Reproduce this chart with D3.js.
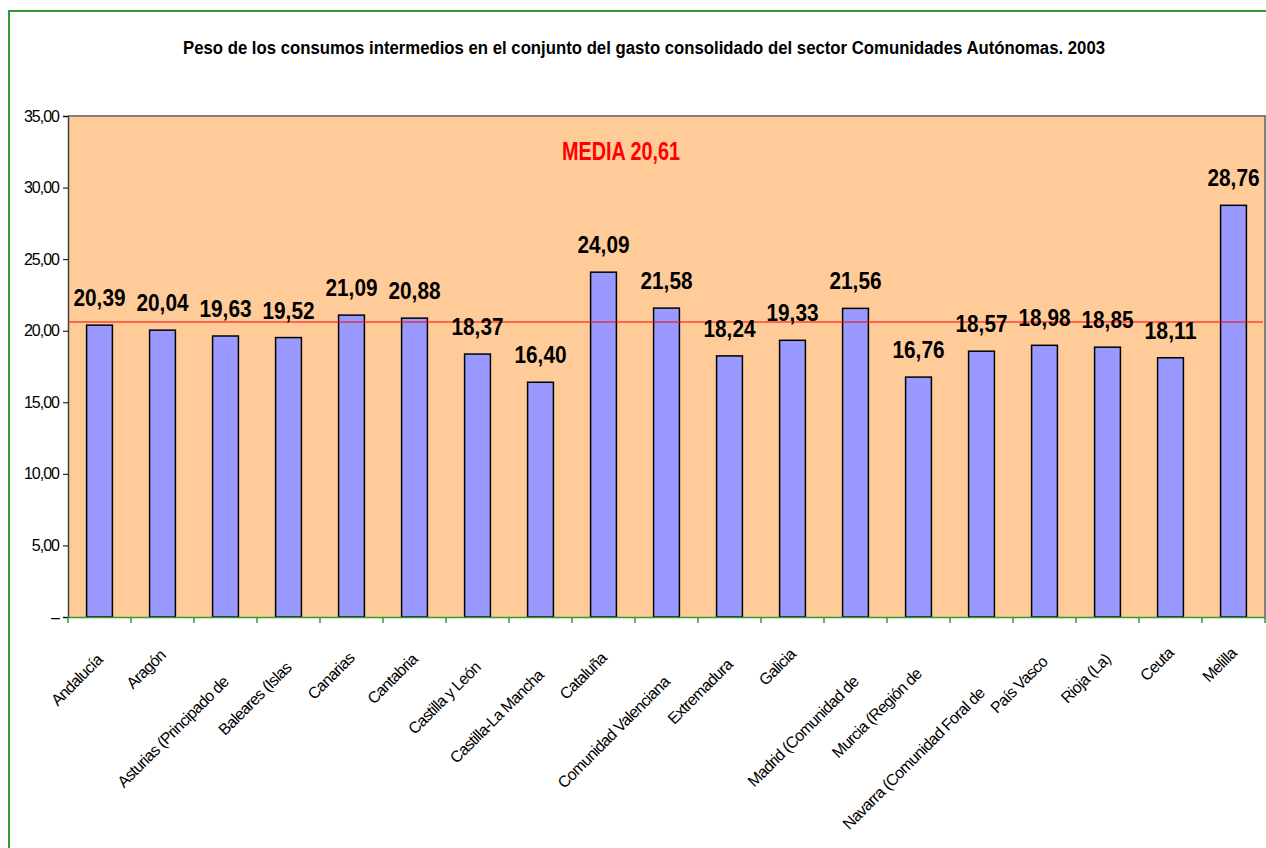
<!DOCTYPE html>
<html>
<head>
<meta charset="utf-8">
<script src="https://cdn.jsdelivr.net/npm/d3@7/dist/d3.min.js"></script>
<style>
  html, body { margin: 0; padding: 0; background: #fff; }
  svg { display: block; font-family: "Liberation Sans", Arial, sans-serif; }
</style>
</head>
<body>
<svg id="chart" width="1266" height="848"></svg>
<script>
const chartTitle = "Peso de los consumos intermedios en el conjunto del gasto consolidado del sector Comunidades Autónomas. 2003";
const categories = ["Andalucía", "Aragón", "Asturias (Principado de", "Baleares (Islas", "Canarias", "Cantabria",
  "Castilla y León", "Castilla-La Mancha", "Cataluña", "Comunidad Valenciana", "Extremadura", "Galicia",
  "Madrid (Comunidad de", "Murcia (Región de", "Navarra (Comunidad Foral de", "País Vasco", "Rioja (La)", "Ceuta", "Melilla"];
const values = [20.39, 20.04, 19.63, 19.52, 21.09, 20.88, 18.37, 16.40, 24.09, 21.58, 18.24, 19.33, 21.56, 16.76, 18.57, 18.98, 18.85, 18.11, 28.76];
const meanValue = 20.61;
const meanLabel = "MEDIA 20,61";
const yTicks = [0, 5, 10, 15, 20, 25, 30, 35];

const svg = d3.select("#chart");
const M = { left: 68, right: 1265, top: 116, bottom: 617 };

const x = d3.scaleBand().domain(categories).range([M.left, M.right]).padding(0);
const y = d3.scaleLinear().domain([0, 35]).range([M.bottom, M.top]);
const fmt = v => d3.format(".2f")(v).replace(".", ",");

// outer chart border (extends beyond the window)
svg.append("rect").attr("x", 9).attr("y", 11).attr("width", 1300).attr("height", 900)
  .attr("fill", "#fff").attr("stroke", "#339933").attr("stroke-width", 2);

// title
svg.append("text").attr("x", 644).attr("y", 54).attr("text-anchor", "middle")
  .attr("font-size", 18).attr("font-weight", "bold").attr("fill", "#000")
  .attr("textLength", 922).attr("lengthAdjust", "spacingAndGlyphs")
  .text(chartTitle);

// plot area
svg.append("rect").attr("x", M.left).attr("y", M.top)
  .attr("width", M.right - M.left).attr("height", M.bottom - M.top)
  .attr("fill", "#FFCC99");
svg.append("path")
  .attr("d", `M${M.left},${M.top}H${M.right}V${M.bottom}`)
  .attr("fill", "none").attr("stroke", "#808080").attr("stroke-width", 2);

// y axis
const yAxis = d3.axisLeft(y).tickValues(yTicks).tickSize(5).tickPadding(4)
  .tickFormat(v => v === 0 ? "–" : fmt(v));
const gy = svg.append("g").attr("transform", `translate(${M.left},0)`).call(yAxis);
gy.select(".domain").attr("stroke", "#404040").attr("stroke-width", 1.5);
gy.selectAll(".tick line").attr("stroke", "#000");
gy.selectAll(".tick text").attr("font-size", 16).attr("letter-spacing", "-1px")
  .attr("fill", "#000").style("font-family", "'Liberation Sans', Arial, sans-serif");

// bars
const bw = x.bandwidth() * 0.41;
svg.append("g").selectAll("rect").data(values).join("rect")
  .attr("x", (d, i) => x(categories[i]) + (x.bandwidth() - bw) / 2)
  .attr("y", d => y(d))
  .attr("width", bw)
  .attr("height", d => y(0) - y(d))
  .attr("fill", "#9999FF").attr("stroke", "#000").attr("stroke-width", 1.5);

// x axis (green)
const xAxis = d3.axisBottom(x).tickSize(0).tickFormat("");
const gx = svg.append("g").attr("transform", `translate(0,${M.bottom})`).call(xAxis);
gx.select(".domain").attr("stroke", "#339933").attr("stroke-width", 1.5);
const boundaries = categories.map(c => x(c)).concat([M.right]);
svg.append("g").selectAll("line").data(boundaries).join("line")
  .attr("x1", d => d).attr("x2", d => d)
  .attr("y1", M.bottom).attr("y2", M.bottom + 6)
  .attr("stroke", "#339933").attr("stroke-width", 1.5);

// x labels rotated
const xl = svg.append("g").selectAll("text").data(categories).join("text")
  .attr("font-size", 16).attr("letter-spacing", "-0.7px").attr("fill", "#000").attr("text-anchor", "end")
  .text(d => d);
xl.each(function(d) {
  const L = this.getComputedTextLength();
  const cx = x(d) + x.bandwidth() / 2 + 4;
  const cy = 644 + 0.26 * L;
  d3.select(this).attr("transform", `translate(${cx},${cy}) rotate(-45)`);
});

// mean line
svg.append("line").attr("x1", M.left).attr("x2", M.right - 2)
  .attr("y1", y(meanValue)).attr("y2", y(meanValue))
  .attr("stroke", "#FF0000").attr("stroke-width", 1.2);

// mean label
svg.append("text").attr("x", 621).attr("y", 160).attr("text-anchor", "middle")
  .attr("font-size", 25).attr("font-weight", "bold").attr("fill", "#FF0000")
  .attr("textLength", 118).attr("lengthAdjust", "spacingAndGlyphs")
  .text(meanLabel);

// value labels
svg.append("g").selectAll("text").data(values).join("text")
  .attr("x", (d, i) => x(categories[i]) + x.bandwidth() / 2)
  .attr("y", d => y(d) - 19)
  .attr("text-anchor", "middle")
  .attr("font-size", 24).attr("font-weight", "bold").attr("fill", "#000")
  .attr("textLength", 52).attr("lengthAdjust", "spacingAndGlyphs")
  .text(d => fmt(d));
</script>
</body>
</html>
